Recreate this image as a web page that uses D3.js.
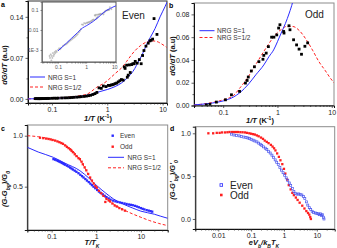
<!DOCTYPE html>
<html>
<head>
<meta charset="utf-8">
<script src="https://cdn.jsdelivr.net/npm/d3@7"></script>
<style>
  body { margin: 0; background: #fff; }
  text { font-family: "Liberation Sans", Arial, sans-serif; }
</style>
</head>
<body>
<div id="chart"></div>
<script>
// panel a: Even, dG/dT vs 1/T
var evenX = [0.05,0.052,0.055,0.058,0.06,0.063,0.066,0.07,0.073,0.077,0.08,0.085,0.09,0.1,0.11,0.12,0.13,0.15,0.17,0.19,0.21,0.23,0.25,0.28,0.31,0.34,0.38,0.42,0.46,0.5,0.55,0.6,0.65,0.71,0.78,0.85,0.95,1.05,1.12,1.2,1.28,1.38,1.48,1.58,1.69,1.8,1.94,2.03,2.1,2.24,2.3,2.39,2.5,2.6,2.75,2.9,3.06,3.2,3.47,3.8,4.1,4.35,4.6,5.0,5.5,5.9,6.2,6.6,7.0,7.9];
var evenY = [0.0005,0.0004,0.0006,0.0003,0.0005,0.0004,0.0007,0.0005,0.0006,0.0008,0.0007,0.0009,0.0008,0.001,0.0012,0.0011,0.0013,0.0016,0.0018,0.0019,0.0021,0.0024,0.0027,0.003,0.0034,0.0038,0.0042,0.0048,0.0055,0.0062,0.0075,0.009,0.011,0.0188,0.018,0.022,0.021,0.023,0.023,0.024,0.0245,0.026,0.027,0.029,0.031,0.033,0.032,0.0546,0.052,0.0575,0.037,0.0405,0.058,0.045,0.0586,0.06,0.06,0.064,0.061,0.067,0.06,0.074,0.0825,0.09,0.095,0.099,0.1,0.102,0.137,0.11];
var nrgA1X = [0.037,0.1,0.2,0.3,0.5,0.74,1,1.38,1.8,2.24,3.15,3.62,4.3,5.1,6,7.3,9,11,12];
var nrgA1Y = [0,0.0009,0.0022,0.0038,0.0075,0.0125,0.016,0.021,0.027,0.0347,0.052,0.063,0.076,0.092,0.105,0.12,0.14,0.157,0.165];
var nrgA2X = [0.037,0.1,0.2,0.3,0.45,0.64,0.91,1.38,1.94,2.24,3.15,4,5.1,6.5,7.8,9.5,11.8];
var nrgA2Y = [0,0.0012,0.003,0.005,0.009,0.0195,0.028,0.043,0.056,0.064,0.082,0.091,0.097,0.099,0.098,0.094,0.088];

// panel b: Odd
var oddX = [0.049,0.057,0.075,0.11,0.142,0.2,0.257,0.276,0.29,0.33,0.376,0.455,0.54,0.56,0.62,0.68,0.78,0.86,0.97,1.05,1.11,1.3,1.32,1.63,1.7,1.98,2.25,2.5,2.77,3.2,3.6];
var oddY = [0.0005,0.001,0.003,0.005,0.0094,0.0124,0.0197,0.022,0.025,0.0303,0.034,0.0385,0.0406,0.044,0.046,0.0517,0.06,0.06,0.062,0.068,0.0709,0.065,0.0636,0.07,0.0665,0.0577,0.0532,0.0495,0.045,0.052,0.055];
var nrgB1X = [0.029,0.038,0.06,0.1,0.157,0.2,0.3,0.4,0.56,0.7,0.85,1.0,1.17,1.4,1.65,1.9,2.0];
var nrgB1Y = [0.0005,0.001,0.002,0.004,0.0076,0.011,0.0194,0.027,0.0356,0.043,0.0488,0.056,0.0636,0.072,0.0812,0.0906,0.095];
var nrgB2X = [0.029,0.038,0.06,0.1,0.157,0.2,0.276,0.41,0.64,0.97,1.2,1.46,1.9,2.5,3.4,4.5,5.8,7.5,9.5,11];
var nrgB2Y = [0.0005,0.001,0.0025,0.005,0.009,0.015,0.0238,0.037,0.0517,0.0636,0.067,0.0694,0.0694,0.066,0.0577,0.048,0.0385,0.031,0.0238,0.02];

// panel c: scaled conductance vs T/TK
var cEvenX = [0.11,0.12,0.13,0.14,0.15,0.16,0.17,0.18,0.19,0.2,0.22,0.24,0.26,0.28,0.3,0.33,0.36,0.4,0.44,0.48,0.52,0.57,0.62,0.68,0.74,0.8,0.87,0.95,1.05,1.15,1.25,1.4,1.55,1.7,1.9,2.1,2.4,2.7,3.0,3.4,3.8,4.3,4.8,5.4,6.0,6.6,7.4,8.2,9.0,10,11,12,13.5,15,16.5,18];
var cEvenY = [0.77,0.765,0.758,0.752,0.745,0.74,0.733,0.728,0.722,0.716,0.706,0.697,0.687,0.678,0.668,0.657,0.646,0.632,0.617,0.603,0.59,0.575,0.56,0.545,0.53,0.515,0.5,0.485,0.468,0.452,0.44,0.425,0.41,0.398,0.385,0.373,0.363,0.356,0.35,0.345,0.34,0.335,0.33,0.325,0.322,0.318,0.312,0.305,0.298,0.29,0.283,0.277,0.27,0.265,0.26,0.255];
var cOddX = [0.055,0.065,0.075,0.085,0.095,0.105,0.12,0.135,0.15,0.165,0.18,0.2,0.22,0.24,0.26,0.28,0.3,0.33,0.36,0.4,0.43,0.47,0.5,0.55,0.6,0.66,0.73,0.8,0.88,0.96,1.03,1.15,1.3,1.45,1.6,1.7,1.9,2.05,2.3,2.6,2.9,3.3,3.8,4.4];
var cOddY = [0.98,0.976,0.972,0.968,0.964,0.958,0.952,0.944,0.936,0.928,0.92,0.905,0.89,0.878,0.866,0.852,0.838,0.818,0.8,0.78,0.77,0.745,0.72,0.69,0.66,0.625,0.59,0.56,0.53,0.505,0.49,0.46,0.435,0.41,0.35,0.38,0.365,0.355,0.335,0.315,0.305,0.29,0.278,0.265];
var nrgC1X = [0.0285,0.05,0.109,0.2,0.43,0.7,1.03,1.6,2.43,4,6.6,10,20,28,40];
var nrgC1Y = [0.886,0.84,0.788,0.73,0.657,0.58,0.51,0.44,0.38,0.33,0.29,0.26,0.23,0.21,0.19];
var nrgC2X = [0.0285,0.05,0.09,0.15,0.3,0.5,0.7,1.03,1.6,2.9,4.5,6.6,10,15.8,25,40];
var nrgC2Y = [1.0,0.99,0.97,0.935,0.85,0.72,0.6,0.49,0.39,0.31,0.265,0.232,0.2,0.167,0.14,0.118];

// panel d: scaled differential conductance vs eVb/kBTK
var dEvenX = [0.025,0.03,0.036,0.043,0.05,0.06,0.07,0.08,0.09,0.1,0.115,0.13,0.15,0.17,0.19,0.21,0.24,0.27,0.3,0.34,0.38,0.43,0.48,0.54,0.6,0.67,0.75,0.84,0.94,1.05,1.17,1.3,1.45,1.6,1.8,2.0,2.2,2.5,2.8,3.1,3.5,3.9,4.3,4.8,5.3,5.9,6.5,7.2,8,9,10,11,12,13,14,15,16,16.5];
var dEvenY = [0.99,0.98,0.975,0.97,0.962,0.956,0.95,0.945,0.94,0.93,0.92,0.91,0.9,0.885,0.872,0.86,0.842,0.826,0.81,0.79,0.77,0.745,0.72,0.69,0.662,0.635,0.602,0.57,0.54,0.51,0.48,0.45,0.42,0.39,0.355,0.322,0.3,0.29,0.292,0.288,0.28,0.262,0.24,0.2,0.162,0.132,0.11,0.09,0.075,0.07,0.065,0.06,0.05,0.06,0.04,0.05,0.02,0.0];
var dOddX = [0.005,0.007,0.009,0.011,0.013,0.016,0.019,0.022,0.026,0.03,0.035,0.04,0.047,0.055,0.065,0.075,0.088,0.1,0.115,0.13,0.15,0.17,0.2,0.23,0.26,0.3,0.34,0.4,0.45,0.5,0.55,0.62,0.7,0.78,0.89,1.0,1.1,1.25,1.4,1.6,1.8,2.0,2.3,2.6,3.0,3.6,4.2,4.8,5.4,5.9,6.3,6.6];
var dOddY = [1.0,1.0,1.005,1.005,1.01,1.01,1.012,1.015,1.015,1.015,1.015,1.015,1.013,1.012,1.01,1.005,1.0,0.995,0.99,0.985,0.975,0.965,0.95,0.935,0.915,0.9,0.885,0.865,0.845,0.825,0.8,0.765,0.725,0.685,0.64,0.585,0.53,0.46,0.395,0.345,0.305,0.278,0.25,0.222,0.19,0.155,0.122,0.092,0.07,0.05,0.022,0.0];

var BLUE = "#2a2aff", RED = "#ff2020", FRAME = "#8c8c8c";

var svg = d3.select("#chart").append("svg")
    .attr("width", 337).attr("height", 248);

function zip(xs, ys) { return xs.map((x, i) => ({x: x, y: ys[i]})); }

function minors(lo, hi) {
    var out = [];
    for (var e = Math.floor(Math.log10(lo)); e <= Math.ceil(Math.log10(hi)); e++) {
        for (var m = 2; m < 10; m++) {
            var v = m * Math.pow(10, e);
            if (v >= lo && v <= hi) out.push(v);
        }
    }
    return out;
}

function panel(p) {
    var x = d3.scaleLog().domain(p.xd).range([p.l, p.r]);
    var y = (p.ylog ? d3.scaleLog() : d3.scaleLinear()).domain(p.yd).range([p.b, p.t]);
    var g = svg.append("g");
    g.append("rect").attr("x", p.l).attr("y", p.t).attr("width", p.r - p.l).attr("height", p.b - p.t)
        .attr("fill", "#fff").attr("stroke", p.frame || FRAME).attr("stroke-width", p.fw || 1);
    var fs = p.fs || 7;
    g.append("g").attr("transform", `translate(0,${p.b})`)
        .call(d3.axisBottom(x).tickValues(p.xt).tickFormat(d => String(d)).tickSize(p.ts || 2.5).tickPadding(2));
    g.append("g").attr("transform", `translate(0,${p.b})`)
        .call(d3.axisBottom(x).tickValues(minors(p.xd[0], p.xd[1])).tickFormat("").tickSize(1.5))
        .select(".domain").remove();
    g.append("g").attr("transform", `translate(${p.l},0)`)
        .call(d3.axisLeft(y).tickValues(p.yt).tickFormat(d => p.yf(d)).tickSize(p.ts || 2.5).tickPadding(2));
    if (p.ym) {
        g.append("g").attr("transform", `translate(${p.l},0)`)
            .call(d3.axisLeft(y).tickValues(p.ym).tickFormat("").tickSize(1.5))
            .select(".domain").remove();
    }
    g.selectAll(".tick text").attr("font-size", fs).attr("fill", p.tc || "#222")
        .style("font-family", "'Liberation Sans', Arial, sans-serif");
    g.selectAll(".tick line").attr("stroke", p.tc || "#222").attr("stroke-width", 0.7);
    g.selectAll(".domain").attr("stroke", p.ac || "#111").attr("stroke-width", 1);
    return {g: g, x: x, y: y};
}

function curve(P, xs, ys, color, dashed, w) {
    var line = d3.line().x(d => P.x(d.x)).y(d => P.y(d.y)).curve(d3.curveMonotoneX);
    P.g.append("path").datum(zip(xs, ys))
        .attr("fill", "none").attr("stroke", color).attr("stroke-width", w || 1)
        .attr("stroke-dasharray", dashed ? "3,2" : null)
        .attr("d", line);
}

function squares(P, xs, ys, color, s, open) {
    P.g.append("g").selectAll("rect").data(zip(xs, ys)).enter().append("rect")
        .attr("x", d => P.x(d.x) - s / 2).attr("y", d => P.y(d.y) - s / 2)
        .attr("width", s).attr("height", s)
        .attr("fill", open ? "none" : color)
        .attr("stroke", open ? color : "none").attr("stroke-width", 0.7);
}

function clip(P, id) {
    var r = P.g.select("rect");
    svg.append("clipPath").attr("id", id).append("rect")
        .attr("x", +r.attr("x")).attr("y", +r.attr("y"))
        .attr("width", +r.attr("width")).attr("height", +r.attr("height"));
    return P.g.append("g").attr("clip-path", `url(#${id})`);
}

// ---------- panel a ----------
var A = panel({l: 28, r: 167, t: 1, b: 103, xd: [0.037, 12], yd: [-0.007, 0.167],
    xt: [0.1, 1, 10], yt: [0, 0.07, 0.14], ym: [0.035, 0.105], yf: d3.format(".2f"), frame: "#333"});
var Ac = {g: clip(A, "ca"), x: A.x, y: A.y};
curve(Ac, nrgA2X, nrgA2Y, RED, true);
curve(Ac, nrgA1X, nrgA1Y, BLUE, false);
squares(Ac, evenX, evenY, "#000", 2.8);

// inset
var In = panel({l: 42, r: 116, t: 2, b: 62, xd: [0.027, 11.5], yd: [0.00025, 0.25], ylog: true,
    xt: [0.1, 1, 10], yt: [0.1, 0.01, 0.001], yf: d => d === 0.001 ? "1E-3" : String(d),
    fs: 5, ts: 1.5, frame: "#555", tc: "#555", ac: "#555"});
In.g.selectAll(".domain").attr("stroke-width", 0.6);
var Inc = {g: clip(In, "ci"), x: In.x, y: In.y};
Inc.g.append("g").selectAll("path").data(zip(evenX, evenY).filter(d => d.y > 0)).enter().append("path")
    .attr("d", d => `M${In.x(d.x) - 1},${In.y(d.y)}h2M${In.x(d.x)},${In.y(d.y) - 1}v2`)
    .attr("stroke", "#aaa").attr("stroke-width", 0.6);
curve(Inc, nrgA1X.slice(1), nrgA1Y.slice(1), BLUE, false, 0.9);

svg.append("text").attr("x", 122).attr("y", 19).attr("font-size", 10).attr("fill", "#222").text("Even");
svg.append("line").attr("x1", 30).attr("x2", 45).attr("y1", 77).attr("y2", 77).attr("stroke", BLUE);
svg.append("text").attr("x", 48).attr("y", 79.5).attr("font-size", 6.5).attr("fill", "#333").text("NRG S=1");
svg.append("line").attr("x1", 30).attr("x2", 45).attr("y1", 87).attr("y2", 87).attr("stroke", RED).attr("stroke-dasharray", "3,2");
svg.append("text").attr("x", 48).attr("y", 89.5).attr("font-size", 6.5).attr("fill", "#333").text("NRG S=1/2");

// ---------- panel b ----------
var B = panel({l: 194, r: 334, t: 3, b: 105.5, xd: [0.029, 11], yd: [0, 0.09],
    xt: [0.1, 1, 10], yt: [0, 0.02, 0.04, 0.06, 0.08], ym: [0.01, 0.03, 0.05, 0.07], yf: d3.format(".2f")});
var Bc = {g: clip(B, "cb"), x: B.x, y: B.y};
curve(Bc, nrgB2X, nrgB2Y, RED, true);
curve(Bc, nrgB1X, nrgB1Y, BLUE, false);
squares(Bc, oddX, oddY, "#000", 2.8);
svg.append("line").attr("x1", 199.5).attr("x2", 214.5).attr("y1", 30.7).attr("y2", 30.7).attr("stroke", BLUE);
svg.append("text").attr("x", 217).attr("y", 33).attr("font-size", 6.5).attr("fill", "#333").text("NRG S=1");
svg.append("line").attr("x1", 199.5).attr("x2", 214.5).attr("y1", 37.5).attr("y2", 37.5).attr("stroke", RED).attr("stroke-dasharray", "3,2");
svg.append("text").attr("x", 217).attr("y", 40).attr("font-size", 6.5).attr("fill", "#333").text("NRG S=1/2");
svg.append("text").attr("x", 305).attr("y", 18).attr("font-size", 10).attr("fill", "#222").text("Odd");

// ---------- panel c ----------
var C = panel({l: 27.3, r: 167.7, t: 125, b: 230, xd: [0.0285, 40], yd: [0.075, 1.105],
    xt: [0.1, 1, 10], yt: [0.5, 1.0], yf: d3.format(".1f")});
var Cc = {g: clip(C, "cc"), x: C.x, y: C.y};
curve(Cc, nrgC1X, nrgC1Y, BLUE, false);
curve(Cc, nrgC2X, nrgC2Y, RED, true);
squares(Cc, cEvenX, cEvenY, BLUE, 2.3);
squares(Cc, cOddX, cOddY, RED, 2.3);
svg.append("rect").attr("x", 111.5).attr("y", 134.5).attr("width", 2.4).attr("height", 2.4).attr("fill", BLUE);
svg.append("text").attr("x", 120).attr("y", 138).attr("font-size", 6.5).attr("fill", "#333").text("Even");
svg.append("rect").attr("x", 111.5).attr("y", 145.5).attr("width", 2.4).attr("height", 2.4).attr("fill", RED);
svg.append("text").attr("x", 120).attr("y", 149).attr("font-size", 6.5).attr("fill", "#333").text("Odd");
svg.append("line").attr("x1", 108).attr("x2", 124).attr("y1", 157.3).attr("y2", 157.3).attr("stroke", BLUE);
svg.append("text").attr("x", 127.5).attr("y", 159.7).attr("font-size", 6.5).attr("fill", "#333").text("NRG S=1");
svg.append("line").attr("x1", 108).attr("x2", 124).attr("y1", 167.8).attr("y2", 167.8).attr("stroke", RED).attr("stroke-dasharray", "3,2");
svg.append("text").attr("x", 127.5).attr("y", 170.2).attr("font-size", 6.5).attr("fill", "#333").text("NRG S=1/2");

// ---------- panel d ----------
var D = panel({l: 195.3, r: 334.7, t: 126.7, b: 229, xd: [0.002, 35], yd: [-0.117, 1.077],
    xt: [0.01, 0.1, 1, 10], yt: [0, 0.5, 1.0], yf: d3.format(".1f")});
var Dc = {g: clip(D, "cd"), x: D.x, y: D.y};
squares(Dc, dOddX, dOddY, RED, 2.3);
squares(Dc, dEvenX, dEvenY, "#4a55ee", 2.0, true);
svg.append("rect").attr("x", 220).attr("y", 183.7).attr("width", 2.6).attr("height", 2.6).attr("fill", "none").attr("stroke", BLUE).attr("stroke-width", 0.8);
svg.append("text").attr("x", 230).attr("y", 189).attr("font-size", 10).attr("fill", "#222").text("Even");
svg.append("rect").attr("x", 220).attr("y", 193.7).attr("width", 2.6).attr("height", 2.6).attr("fill", RED);
svg.append("text").attr("x", 230).attr("y", 199).attr("font-size", 10).attr("fill", "#222").text("Odd");

// ---------- panel letters & axis titles ----------
[["a", 1, 7], ["b", 169, 8], ["c", 1, 131], ["d", 170, 131]].forEach(function(l) {
    svg.append("text").attr("x", l[1]).attr("y", l[2]).attr("font-size", 7).attr("font-weight", "bold").text(l[0]);
});

function title(x, y, rot, parts) {
    var t = svg.append("text").attr("font-size", 7.5).attr("font-weight", "bold")
        .attr("text-anchor", "middle").attr("fill", "#111")
        .attr("transform", `translate(${x},${y})` + (rot ? " rotate(-90)" : ""));
    parts.forEach(function(p) {
        var s = t.append("tspan").text(p[0]);
        if (p[1] === "i") s.attr("font-style", "italic");
        if (p[1] === "sub") s.attr("font-size", 5).attr("baseline-shift", "sub").attr("font-style", "italic");
        if (p[1] === "sup") s.attr("font-size", 5).attr("baseline-shift", "super");
    });
}
title(7, 65, true, [["dG/dT", "i"], [" (a.u)"]]);
title(98, 121, false, [["1/T", "i"], [" (K"], ["-1", "sup"], [")"]]);
title(175, 56, true, [["dG/dT", "i"], [" (a.u)"]]);
title(260, 123, false, [["1/T", "i"], [" (K"], ["-1", "sup"], [")"]]);
title(7, 189, true, [["(G-G", "i"], ["bg", "sub"], [")/G", "i"], ["0", "sub"]]);
title(92, 245, false, [["T/T", "i"], ["K", "sub"]]);
title(175, 180, true, [["(G-G'", "i"], ["bg", "sub"], [")/G'", "i"], ["0", "sub"]]);
title(264, 245, false, [["eV", "i"], ["b", "sub"], ["/k", "i"], ["B", "sub"], ["T", "i"], ["K", "sub"]]);
</script>
</body>
</html>
